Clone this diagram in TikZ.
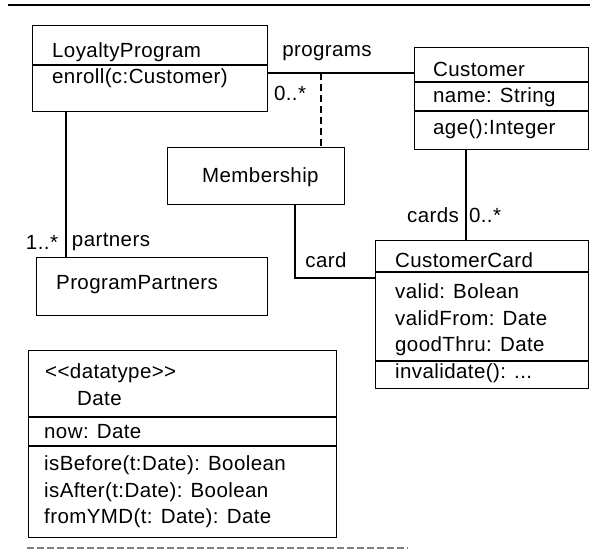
\documentclass[tikz,border=0pt]{standalone}
\usepackage{fontspec}
\setmainfont{Liberation Sans}[LetterSpace=2]
\begin{document}
\begin{tikzpicture}[x=1pt, y=-1pt,
  umlbox/.style={draw, line width=1.1pt, anchor=north west, inner sep=0pt},
  sepline/.style={line width=1.1pt},
  conn/.style={line width=1.1pt},
  txt/.style={anchor=west, inner sep=0pt, font=\fontsize{20.5}{24}\selectfont},
  lbl/.style={anchor=center, inner sep=0pt, font=\fontsize{20.5}{24}\selectfont}]
\useasboundingbox (0,0) rectangle (590,550);

% rule across the top
\coordinate (ruleL) at (8,5);
\coordinate (ruleR) at (590,5);
\draw[line width=1.2pt] (ruleL) -- (ruleR);

% class boxes
\node[umlbox, minimum width=235pt, minimum height=86pt] (lp) at (32,25) {};
\node[umlbox, minimum width=174pt, minimum height=102pt] (cust) at (414,47) {};
\node[umlbox, minimum width=177pt, minimum height=57pt] (mem) at (167,147) {};
\node[umlbox, minimum width=231pt, minimum height=58pt] (pp) at (36,257) {};
\node[umlbox, minimum width=213pt, minimum height=148pt] (cc) at (375,240) {};
\node[umlbox, minimum width=308pt, minimum height=187pt] (date) at (28,350) {};

% compartment separators
\draw[sepline] (lp.west |- 0,65) -- (lp.east |- 0,65);
\draw[sepline] (cust.west |- 0,82) -- (cust.east |- 0,82);
\draw[sepline] (cust.west |- 0,111) -- (cust.east |- 0,111);
\draw[sepline] (cc.west |- 0,272) -- (cc.east |- 0,272);
\draw[sepline] (cc.west |- 0,361) -- (cc.east |- 0,361);
\draw[sepline] (date.west |- 0,417) -- (date.east |- 0,417);
\draw[sepline] (date.west |- 0,446) -- (date.east |- 0,446);

% box contents
\node[txt] (lpName) at (52,52) {LoyaltyProgram};
\node[txt] (lpOp) at (52,78) {enroll(c:Customer)};
\node[txt] (custName) at (433,69) {Customer};
\node[txt] (custAttr) at (433,97) {name: String};
\node[txt] (custOp) at (433,129) {age():Integer};
\node[txt] (memName) at (202,177) {Membership};
\node[txt] (ppName) at (56,285) {ProgramPartners};
\node[txt] (ccName) at (395,260) {CustomerCard};
\node[txt] (ccA1) at (395,291) {valid: Bolean};
\node[txt] (ccA2) at (395,318) {validFrom: Date};
\node[txt] (ccA3) at (395,346) {goodThru: Date};
\node[txt] (ccOp) at (395,373) {invalidate(): ...};
\node[txt] (dStereo) at (45,373) {<{}<datatype>{}>};
\node[txt] (dName) at (77,399) {Date};
\node[txt] (dAttr) at (44,432) {now: Date};
\node[txt] (dOp1) at (44,465) {isBefore(t:Date): Boolean};
\node[txt] (dOp2) at (44,492) {isAfter(t:Date): Boolean};
\node[txt] (dOp3) at (44,518) {fromYMD(t: Date): Date};

% associations
\coordinate (assocMid) at (321,73);
\draw[conn] (lp.east |- assocMid) -- (cust.west |- assocMid);
\draw[conn, dash pattern=on 7pt off 4pt] (assocMid) -- (mem.north -| assocMid);
\draw[conn] (lp.south -| 66,0) -- (pp.north -| 66,0);
\draw[conn] (cust.south -| 466,0) -- (cc.north -| 466,0);
\draw[conn] (mem.south -| 295,0) |- (cc.west |- 0,278);

% association end labels
\node[lbl] (lblPrograms) at (327,53) {programs};
\node[lbl] (lblZero1) at (290,93) {0..*};
\node[lbl] (lblOne) at (42,242) {1..*};
\node[lbl] (lblPartners) at (111,242) {partners};
\node[lbl] (lblCards) at (433,215) {cards};
\node[lbl] (lblZero2) at (485,215) {0..*};
\node[lbl] (lblCard) at (326,260) {card};

% dashed rule at the bottom
\coordinate (botL) at (27,548);
\coordinate (botR) at (408,548);
\draw[line width=1.3pt, gray, dash pattern=on 7pt off 3pt] (botL) -- (botR);
\end{tikzpicture}
\end{document}
